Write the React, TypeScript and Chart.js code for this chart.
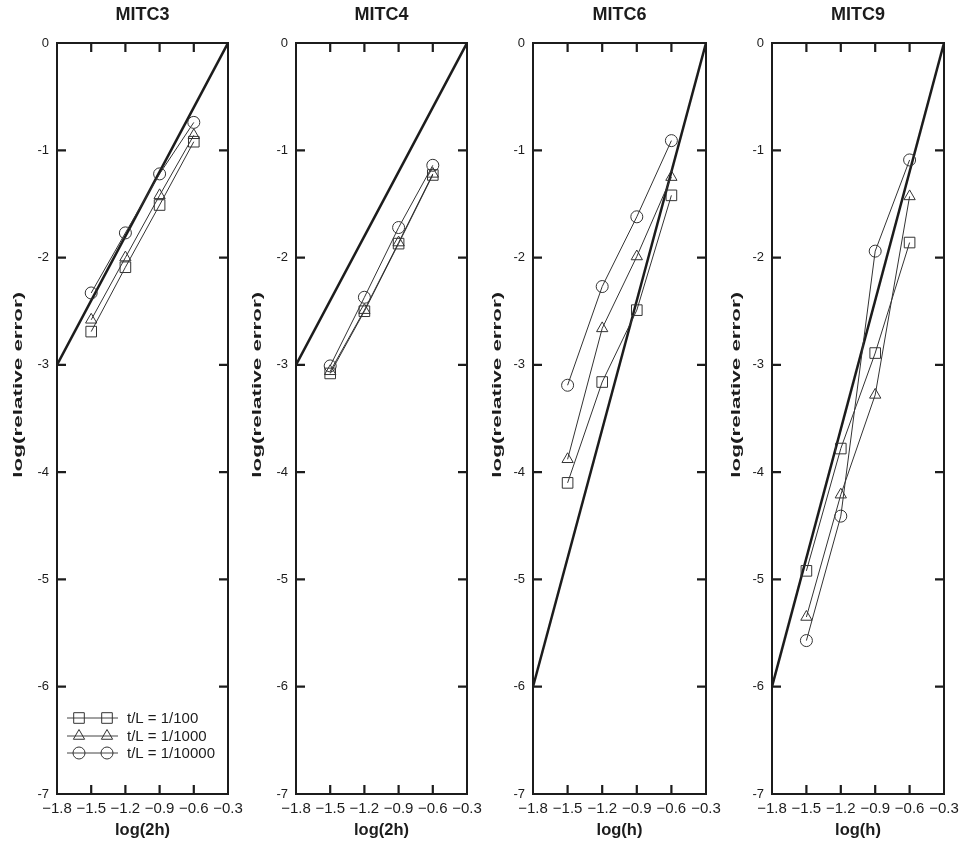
import React, { useEffect, useRef } from 'react';
import { Chart, registerables } from 'chart.js';
import { drawPoint } from 'chart.js/helpers';

Chart.register(...registerables);

// ---------- data ----------
const xValues = [-1.5, -1.2, -0.9, -0.6];
const refX = [-1.8, -0.3];
const xTickValues = [-1.8, -1.5, -1.2, -0.9, -0.6, -0.3];
const yTickValues = [0, -1, -2, -3, -4, -5, -6, -7];
const seriesLabels = ['t/L = 1/100', 't/L = 1/1000', 't/L = 1/10000'];
const panelTitles = ['MITC3', 'MITC4', 'MITC6', 'MITC9'];
const xAxisTitles = ['log(2h)', 'log(2h)', 'log(h)', 'log(h)'];
const yAxisTitle = 'log(relative error)';

const mitc3_t100 = [-2.69, -2.09, -1.51, -0.92];
const mitc3_t1000 = [-2.58, -2.0, -1.42, -0.86];
const mitc3_t10000 = [-2.33, -1.77, -1.22, -0.74];
const mitc3_ref = [-3, 0];

const mitc4_t100 = [-3.08, -2.5, -1.87, -1.23];
const mitc4_t1000 = [-3.06, -2.49, -1.86, -1.22];
const mitc4_t10000 = [-3.01, -2.37, -1.72, -1.14];
const mitc4_ref = [-3, 0];

const mitc6_t100 = [-4.1, -3.16, -2.49, -1.42];
const mitc6_t1000 = [-3.88, -2.66, -1.99, -1.25];
const mitc6_t10000 = [-3.19, -2.27, -1.62, -0.91];
const mitc6_ref = [-6, 0];

const mitc9_t100 = [-4.92, -3.78, -2.89, -1.86];
const mitc9_t1000 = [-5.35, -4.21, -3.28, -1.43];
const mitc9_t10000 = [-5.57, -4.41, -1.94, -1.09];
const mitc9_ref = [-6, 0];

const panelSeries = [
  [mitc3_t100, mitc3_t1000, mitc3_t10000],
  [mitc4_t100, mitc4_t1000, mitc4_t10000],
  [mitc6_t100, mitc6_t1000, mitc6_t10000],
  [mitc9_t100, mitc9_t1000, mitc9_t10000],
];
const panelRefs = [mitc3_ref, mitc4_ref, mitc6_ref, mitc9_ref];

// ---------- layout / style ----------
const FONT = '"Liberation Sans", Arial, Helvetica, sans-serif';
const INK = '#1c1c1c';
const plotLefts = [57, 296, 533, 772];
const plotWidths = [171, 171, 173, 172];
const yTitleOffsets = [39, 39, 36, 36];
const AXIS_W = 57;
const RIGHT_PAD = 16;
const H = 845;
const pointStyles = ['rect', 'triangle', 'circle'];
const pointRadii = [7.5, 6.5, 6];

const fmtX = (v: number) => (v < 0 ? '\u2212' : '') + Math.abs(v).toFixed(1);

const framePlugin = {
  id: 'frameTicks',
  afterDatasetsDraw(chart: any) {
    const { ctx, chartArea: a, scales } = chart;
    ctx.save();
    ctx.strokeStyle = INK;
    ctx.lineWidth = 2;
    ctx.strokeRect(a.left, a.top, a.right - a.left, a.bottom - a.top);
    ctx.lineWidth = 2.2;
    ctx.beginPath();
    xTickValues.slice(1, -1).forEach((v) => {
      const px = scales.x.getPixelForValue(v);
      ctx.moveTo(px, a.bottom);
      ctx.lineTo(px, a.bottom - 9);
      ctx.moveTo(px, a.top);
      ctx.lineTo(px, a.top + 9);
    });
    yTickValues.slice(1, -1).forEach((v) => {
      const py = scales.y.getPixelForValue(v);
      ctx.moveTo(a.left, py);
      ctx.lineTo(a.left + 9, py);
      ctx.moveTo(a.right, py);
      ctx.lineTo(a.right - 9, py);
    });
    ctx.stroke();
    ctx.restore();
  },
};

const yTitlePlugin = {
  id: 'yTitle',
  afterDraw(chart: any, _args: any, opts: any) {
    const { ctx, chartArea: a } = chart;
    ctx.save();
    ctx.font = `bold 13px ${FONT}`;
    const w = ctx.measureText(yAxisTitle).width;
    const target = 186;
    ctx.translate(a.left - (opts.offset || 38), a.top + (a.bottom - a.top) * 0.455);
    ctx.rotate(-Math.PI / 2);
    ctx.scale(target / w, 1);
    ctx.fillStyle = INK;
    ctx.textAlign = 'center';
    ctx.textBaseline = 'middle';
    ctx.fillText(yAxisTitle, 0, 0);
    ctx.restore();
  },
};

const legendPlugin = {
  id: 'insideLegend',
  afterDatasetsDraw(chart: any, _args: any, opts: any) {
    if (!opts || !opts.show) return;
    const { ctx, chartArea: a } = chart;
    const rows = [76, 58, 41];
    ctx.save();
    seriesLabels.forEach((label, i) => {
      const y = a.bottom - rows[i];
      ctx.strokeStyle = '#444';
      ctx.lineWidth = 1;
      ctx.beginPath();
      ctx.moveTo(a.left + 10, y);
      ctx.lineTo(a.left + 61, y);
      ctx.stroke();
      ctx.fillStyle = 'rgba(0,0,0,0)';
      ctx.strokeStyle = '#333';
      [a.left + 22, a.left + 50].forEach((px) => {
        drawPoint(ctx, { pointStyle: pointStyles[i], radius: pointRadii[i], rotation: 0, borderWidth: 1 } as any, px, y);
      });
      ctx.fillStyle = INK;
      ctx.font = `15px ${FONT}`;
      ctx.textAlign = 'left';
      ctx.textBaseline = 'middle';
      ctx.fillText(label, a.left + 70, y + 1);
    });
    ctx.restore();
  },
};

function Panel({ index }: { index: number }) {
  const ref = useRef<HTMLCanvasElement | null>(null);
  const width = AXIS_W + plotWidths[index] + RIGHT_PAD;
  useEffect(() => {
    if (!ref.current) return;
    const datasets: any[] = panelSeries[index].map((vals, i) => ({
      label: seriesLabels[i],
      data: xValues.map((x, k) => ({ x, y: vals[k] })),
      borderColor: '#333',
      borderWidth: 1,
      backgroundColor: 'rgba(0,0,0,0)',
      pointStyle: pointStyles[i],
      pointRadius: pointRadii[i],
      pointBorderWidth: 1,
      pointBorderColor: '#333',
      pointBackgroundColor: 'rgba(0,0,0,0)',
      tension: 0,
    }));
    datasets.push({
      label: 'slope',
      data: refX.map((x, k) => ({ x, y: panelRefs[index][k] })),
      borderColor: INK,
      borderWidth: 2.5,
      pointRadius: 0,
      tension: 0,
    });
    const chart = new Chart(ref.current, {
      type: 'line',
      data: { datasets },
      plugins: [framePlugin, legendPlugin, yTitlePlugin],
      options: {
        animation: false,
        responsive: false,
        events: [],
        layout: { padding: { left: 0, right: RIGHT_PAD, top: 0, bottom: 0 } },
        scales: {
          x: {
            type: 'linear',
            min: -1.8,
            max: -0.3,
            afterBuildTicks: (s: any) => {
              s.ticks = xTickValues.map((v) => ({ value: v }));
            },
            afterFit: (s: any) => {
              s.height = 51;
              s.paddingLeft = 0;
              s.paddingRight = 0;
            },
            grid: { display: false, drawTicks: false },
            border: { display: false },
            ticks: {
              callback: (v: any) => fmtX(Number(v)),
              font: { family: FONT, size: 15 },
              color: INK,
              padding: 6,
              maxRotation: 0,
              autoSkip: false,
            },
            title: {
              display: true,
              text: xAxisTitles[index],
              color: INK,
              font: { family: FONT, size: 16.5, weight: 'bold' },
              padding: { top: 0, bottom: 5 },
            },
          },
          y: {
            type: 'linear',
            min: -7,
            max: 0,
            afterBuildTicks: (s: any) => {
              s.ticks = yTickValues.map((v) => ({ value: v }));
            },
            afterFit: (s: any) => {
              s.width = AXIS_W;
            },
            grid: { display: false, drawTicks: false },
            border: { display: false },
            ticks: {
              callback: (v: any) => String(v),
              font: { family: FONT, size: 13 },
              color: INK,
              padding: 8,
            },
            title: { display: false },
          },
        },
        plugins: {
          legend: { display: false },
          tooltip: { enabled: false },
          title: {
            display: true,
            text: panelTitles[index],
            fullSize: false,
            color: INK,
            font: { family: FONT, size: 18, weight: 'bold' },
            padding: { top: 4, bottom: 17.4 },
          },
          insideLegend: { show: index === 0 },
          yTitle: { offset: yTitleOffsets[index] },
        } as any,
      },
    });
    return () => chart.destroy();
  }, [index]);
  return (
    <canvas
      ref={ref}
      width={width}
      height={H}
      style={{ position: 'absolute', left: plotLefts[index] - AXIS_W, top: 0, width, height: H }}
    />
  );
}

export default function App() {
  return (
    <div style={{ position: 'absolute', left: 0, top: 0, width: 962, height: 845, background: '#fff' }}>
      {panelTitles.map((_, i) => (
        <Panel key={i} index={i} />
      ))}
    </div>
  );
}
